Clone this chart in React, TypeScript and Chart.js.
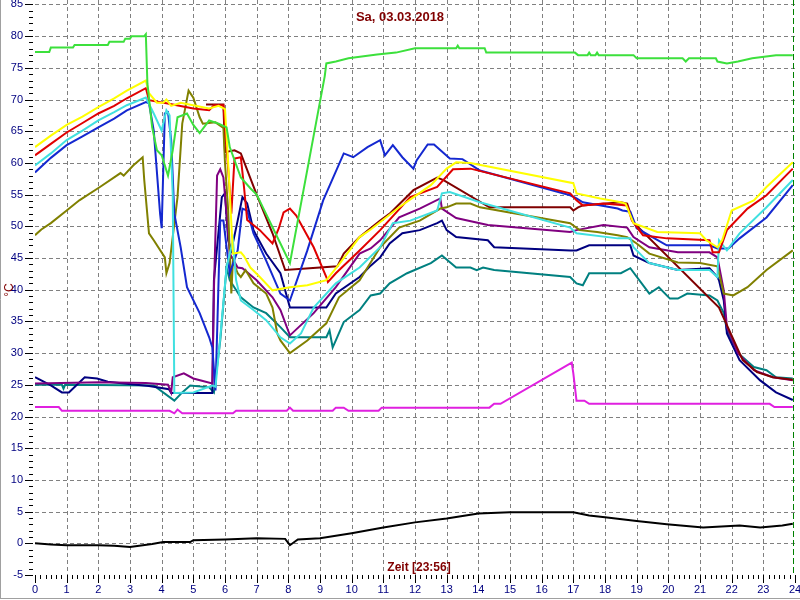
import React, { useEffect, useRef } from "react";
import { Chart, registerables } from "chart.js";

Chart.register(...registerables);

const titleText = "Sa, 03.03.2018";
const xTitleText = "Zeit [23:56]";
const yTitleText = "°C";
const nowHour = 23.933;

const xTickLabels = Array.from({ length: 25 }, (_, i) => String(i));
const yTickLabels = ["-5", "0", "5", "10", "15", "20", "25", "30", "35", "40", "45", "50", "55", "60", "65", "70", "75", "80", "85"];

type P = [number, number];

const green: P[] = [[0,77.5],[0.45,77.5],[0.5,78.2],[1.2,78.2],[1.25,78.6],[2.3,78.6],[2.35,79.1],[2.8,79.1],[2.85,79.6],[3.0,79.6],[3.05,80.0],[3.45,80.0],[3.5,80.3],[3.55,72.5],[3.7,65.6],[3.85,62],[4.0,61.2],[4.2,58],[4.35,62],[4.5,67.2],[4.8,67.8],[5.0,66],[5.2,64.7],[5.5,66.7],[5.8,66.2],[6.05,65.6],[6.15,62.5],[6.5,57.7],[6.8,56],[7.0,55],[7.75,47.3],[8.05,44.2],[9.15,73.7],[9.2,75.7],[9.5,76],[9.9,76.5],[10.8,77.1],[11.4,77.4],[12.0,78.1],[13.3,78.1],[13.35,78.5],[13.4,78.1],[14.2,78.1],[14.25,77.4],[17.05,77.4],[17.15,77],[17.45,77],[17.5,77.4],[17.55,77],[17.7,77],[17.75,77.4],[17.8,77],[18.9,77],[19.0,76.5],[20.45,76.5],[20.55,76],[20.65,76.5],[21.5,76.5],[21.55,76],[21.85,75.7],[22.2,76],[22.65,76.5],[23.4,77],[23.93,77]];

const yellow: P[] = [[0,62.5],[0.5,64.3],[1,66],[1.5,67.3],[2,68.8],[2.5,70.2],[2.9,71.4],[3.5,73],[3.6,71],[3.85,69.5],[4.05,69.5],[4.15,70],[4.3,69],[4.6,69.5],[5.5,68.6],[5.8,69],[6.0,68.5],[6.1,60],[6.25,45.7],[6.5,45.9],[6.6,45.3],[6.8,43.5],[7.1,42],[7.5,39.9],[8.05,40.4],[8.6,40.7],[9.2,41.5],[9.6,44],[10.25,48.3],[10.6,49.5],[11.5,53],[12.5,56.5],[13,59.1],[13.3,60.1],[13.75,60],[17.0,56.8],[17.1,55.2],[17.85,54.4],[18.5,53.8],[18.65,53.6],[18.9,50.5],[19.65,49.1],[21.0,48.9],[21.2,47.8],[21.55,46.7],[21.7,47.8],[22.0,52.5],[22.7,54.1],[23.1,56.2],[23.93,60.1]];

const red: P[] = [[0,61.2],[0.5,63],[1,64.8],[1.5,66.3],[2,67.8],[2.5,69],[2.9,70.2],[3.5,71.8],[3.6,69.9],[4.15,69.4],[5,68.6],[5.5,68.3],[5.65,69.1],[5.95,69.1],[6.05,62.5],[6.2,52],[6.3,60.7],[6.5,60.9],[6.6,56.2],[6.7,51],[7.1,49.4],[7.5,47.3],[7.7,49.7],[7.85,52.2],[8.05,52.8],[8.25,51.7],[8.8,46.7],[9.2,42],[9.25,41.2],[9.5,42.6],[10.25,46.2],[10.9,49.4],[11.85,54.6],[12.7,56.2],[13.2,59],[13.75,59.1],[16.9,55.2],[17.1,54.1],[17.3,53.3],[17.95,53.6],[18.7,53.3],[18.85,50.9],[19.2,48.6],[19.95,48.1],[21.3,47.8],[21.4,45.9],[21.6,45.9],[21.85,49.4],[22.5,52.8],[23.1,54.9],[23.93,59.1]];

const cyan: P[] = [[0,59.6],[0.5,61.5],[1,63.6],[1.5,65.1],[2,66.7],[2.5,68],[2.9,69.1],[3.5,70.3],[3.75,67.8],[4.0,65.1],[4.15,68.3],[4.25,67.5],[4.35,55],[4.4,23.7],[5.0,23.8],[5.6,24.9],[5.7,24.7],[5.85,32.5],[6.05,43.5],[6.25,47.8],[6.35,41.5],[6.5,38.3],[6.9,36.8],[7.3,35.2],[7.75,32.5],[8.05,31.5],[8.4,33.1],[8.8,37.2],[9.5,41],[10.25,43.5],[10.9,46.7],[11.3,50.5],[11.85,50.9],[12.7,52.5],[12.85,55.2],[13.1,55.4],[14.05,53.8],[16.9,49.8],[17.1,48.9],[18.4,48.1],[18.8,48.1],[18.9,46.7],[19.4,44.2],[20.3,43.1],[21.3,43.1],[21.55,42],[21.6,47.8],[21.85,46.2],[22.25,48.9],[23.1,53],[23.93,57.3]];

const blue: P[] = [[0,58.5],[0.5,60.8],[1,62.8],[1.5,64.2],[2,65.6],[2.5,67],[2.9,68.3],[3.5,69.6],[3.6,69.4],[3.75,65.1],[3.95,52],[4.0,49.7],[4.1,67.8],[4.2,68],[4.3,63.6],[4.4,52],[4.6,46.7],[4.8,40.4],[5.2,36.3],[5.5,32.5],[5.6,30.9],[5.7,24.1],[5.85,50.9],[5.95,50.9],[6.05,46.7],[6.15,42.6],[6.4,46.2],[6.55,52.8],[6.7,52.5],[6.9,48.9],[7.3,44.6],[7.75,39.4],[8.05,38.3],[8.6,46.2],[9.1,54.1],[9.75,61.5],[10.05,60.9],[10.5,62.5],[10.9,63.6],[11.05,61.2],[11.3,62.8],[11.6,60.9],[11.95,59.1],[12.05,60.4],[12.4,62.9],[12.6,62.9],[13.1,60.7],[13.5,60.6],[14.05,58.8],[16.9,54.9],[17.1,54.4],[17.3,53.8],[18.4,52.8],[18.55,52.5],[18.8,52.3],[19.0,49.7],[19.95,47],[21.3,47],[21.55,46.5],[21.9,46.5],[22.25,48.1],[23.1,51.4],[23.93,56.5]];

const olive: P[] = [[0,48.6],[0.2,49.5],[0.5,50.5],[1,52.5],[1.4,54.1],[2.05,56.2],[2.7,58.4],[2.8,58],[3.1,59.6],[3.4,60.9],[3.45,57.3],[3.6,48.9],[3.75,47.8],[4.1,45.1],[4.15,42.6],[4.25,44.2],[4.5,54.6],[4.65,66.2],[4.85,71.4],[5.0,70.3],[5.2,67.2],[5.3,66.2],[5.7,66.4],[5.95,65.5],[6.0,60],[6.1,52.5],[6.2,39.4],[6.25,44.6],[6.4,42.6],[6.5,42],[6.65,43.1],[6.9,41],[7.3,39.4],[7.5,37.2],[7.65,33.1],[7.75,32],[8.05,30],[8.6,32],[9.2,34.7],[9.6,38.8],[10.25,41.5],[10.6,44.3],[10.9,46.7],[11.5,49.8],[12.15,50.9],[12.8,52.8],[13.0,53],[13.3,53.6],[13.75,53.6],[14.05,53],[16.9,50.5],[17.2,49.4],[17.75,49.1],[18.4,48.6],[18.7,48.3],[19.0,47.3],[19.4,45.7],[20.3,44.3],[21.0,44.2],[21.55,43.7],[21.75,39.4],[22.05,39.1],[22.5,40.4],[23.1,43.1],[23.93,46.2]];

const maroon: P[] = [[5.4,69.2],[5.95,69.2],[6.0,61.7],[6.3,62],[6.5,61.5],[7.0,55],[7.5,48.9],[7.9,43.1],[9.55,43.7],[9.75,45.7],[10.25,48.3],[10.9,50.9],[11.2,52],[11.95,55.7],[12.7,57.7],[12.9,57.3],[14.35,53],[16.9,53],[17.0,52.5],[17.15,53],[17.3,53.3],[18.5,53.8],[18.7,53.6],[18.9,50.6],[21.6,37.2],[22.35,28.9],[22.8,27],[23.3,26.2],[23.93,25.8]];

const purple: P[] = [[0,25.2],[2.05,25.4],[3.5,25.3],[4.2,25],[4.3,23.8],[4.35,26.2],[4.7,26.8],[5.0,26],[5.6,25.2],[5.65,40],[5.75,58],[5.85,59],[5.95,57.7],[6.05,52],[6.15,45.7],[6.4,43.5],[6.55,43.4],[7.0,41.5],[7.5,38.8],[7.75,36.8],[8.05,32.8],[8.8,36.3],[9.5,40.4],[10.25,45.7],[10.6,46.5],[10.9,47.8],[11.5,51.4],[12.15,52.8],[12.8,54.4],[12.85,52.8],[13.3,51.3],[14.3,50.2],[16.9,49.1],[17.1,49.4],[17.95,50.2],[18.7,49.8],[18.9,48.3],[19.4,46.7],[20.3,45.9],[21.3,45.9],[21.55,45.1],[21.75,39.9],[21.85,34.1],[22.2,30],[22.7,27.3],[23.3,26.2],[23.93,25.7]];

const navy: P[] = [[0,26.2],[0.5,24.9],[0.85,23.8],[1.07,23.8],[1.57,26.2],[1.96,26],[2.3,25.5],[2.8,25.2],[3.6,24.8],[4.23,24.3],[4.3,23.7],[5.6,23.7],[5.65,41.5],[5.9,54.6],[6.0,55.2],[6.1,47.8],[6.2,46.2],[6.4,50.9],[6.55,54.6],[6.7,53.6],[6.9,49.4],[7.3,45.7],[7.75,42.6],[8.05,37.2],[9.2,37.2],[9.5,39.4],[10.25,42],[10.6,43.8],[10.9,45.1],[11.2,47.3],[11.6,48.9],[12.15,49.4],[12.7,50.5],[12.85,50.9],[13.0,49.4],[13.3,48.3],[14.3,47.8],[14.5,46.7],[16.9,46.2],[17.1,46.2],[17.5,47],[18.8,47],[18.9,45.4],[19.4,44.2],[20.3,43.1],[21.3,43.4],[21.55,42],[21.6,41.5],[21.75,38.3],[21.85,33.1],[22.25,28.9],[22.9,25.7],[23.4,23.8],[23.93,22.6]];

const teal: P[] = [[0,25],[0.85,25],[0.9,24.4],[0.95,25],[3.75,24.9],[4.4,22.5],[4.65,23.8],[4.9,24.9],[5.5,24.6],[5.65,23.8],[5.85,32],[6.05,43.5],[6.15,41.5],[6.5,38.8],[6.9,37.2],[7.3,36.3],[7.75,34.1],[8.05,32.5],[9.2,32.5],[9.3,33.6],[9.4,30.9],[9.5,32],[9.75,34.9],[10.25,36.8],[10.6,39.1],[10.9,39.4],[11.2,41],[11.75,42.6],[12.5,44.2],[12.85,45.4],[13.3,43.5],[13.75,43.5],[13.95,43.1],[14.15,43.5],[14.5,43.1],[16.9,42],[17.1,41],[17.3,40.7],[17.5,42.6],[18.5,42.6],[18.8,43.4],[19.4,39.4],[19.7,40.4],[20.05,38.6],[20.3,38.6],[20.6,39.4],[21.3,39.1],[21.55,38.3],[21.75,36.3],[21.85,33.6],[22.2,30],[22.7,27.8],[23.1,27.3],[23.4,26.2],[23.93,26]];

const magenta: P[] = [[0,21.5],[0.75,21.5],[0.85,20.9],[4.25,20.9],[4.4,20.5],[4.5,21.1],[4.65,20.5],[6.25,20.5],[6.35,20.9],[7.95,20.9],[8.05,21.4],[8.15,20.9],[9.4,20.9],[9.5,21.4],[9.75,21.4],[9.9,20.9],[10.85,20.9],[10.95,21.4],[14.35,21.4],[14.5,22],[14.7,22],[16.95,28.5],[17.0,26.8],[17.1,22.5],[17.35,22.5],[17.5,22],[23.2,22],[23.35,21.5],[23.93,21.5]];

const black: P[] = [[0,0],[0.5,-0.2],[1,-0.3],[2,-0.3],[2.5,-0.4],[3,-0.6],[3.7,-0.1],[4.05,0.2],[4.9,0.2],[5,0.5],[6,0.6],[7,0.8],[7.9,0.7],[8.05,-0.3],[8.3,0.6],[9,0.8],[10,1.6],[11,2.5],[12,3.3],[13,3.9],[14,4.7],[15,4.9],[16,4.9],[17,4.9],[17.5,4.4],[18,4.1],[19,3.5],[19.95,3.0],[21.1,2.5],[22.25,2.8],[22.9,2.5],[23.6,2.8],[23.93,3.1]];

const seriesList: { name: string; data: P[]; color: string }[] = [
  { name: "magenta", data: magenta, color: "#e020e0" },
  { name: "black", data: black, color: "#000000" },
  { name: "green", data: green, color: "#3ce03c" },
  { name: "yellow", data: yellow, color: "#ffff00" },
  { name: "red", data: red, color: "#e00000" },
  { name: "cyan", data: cyan, color: "#40e0e0" },
  { name: "blue", data: blue, color: "#1428d0" },
  { name: "olive", data: olive, color: "#808000" },
  { name: "maroon", data: maroon, color: "#800000" },
  { name: "purple", data: purple, color: "#800080" },
  { name: "navy", data: navy, color: "#000080" },
  { name: "teal", data: teal, color: "#008080" },
];

const FONT = "Arial, 'Liberation Sans', sans-serif";

const decorPlugin = {
  id: "decor",
  beforeDatasetsDraw(chart: any) {
    const ctx = chart.ctx;
    const xs = chart.scales.x;
    const ys = chart.scales.y;
    const { left, right, top, bottom } = chart.chartArea;
    ctx.save();
    ctx.strokeStyle = "#808080";
    ctx.lineWidth = 1;
    ctx.setLineDash([4, 3]);
    for (let h = 1; h <= 23; h++) {
      const px = Math.round(xs.getPixelForValue(h)) + 0.5;
      ctx.beginPath();
      ctx.moveTo(px, top);
      ctx.lineTo(px, bottom);
      ctx.stroke();
    }
    for (let v = 0; v <= 85; v += 5) {
      const py = Math.round(ys.getPixelForValue(v)) + 0.5;
      ctx.beginPath();
      ctx.moveTo(left, py);
      ctx.lineTo(right, py);
      ctx.stroke();
    }
    ctx.restore();
  },
  afterDatasetsDraw(chart: any) {
    const ctx = chart.ctx;
    const xs = chart.scales.x;
    const ys = chart.scales.y;
    const { left, top, bottom } = chart.chartArea;
    ctx.save();
    ctx.strokeStyle = "#008000";
    ctx.lineWidth = 1;
    ctx.setLineDash([6, 3]);
    const nx = Math.round(xs.getPixelForValue(nowHour)) + 0.5;
    ctx.beginPath();
    ctx.moveTo(nx, top);
    ctx.lineTo(nx, bottom);
    ctx.stroke();
    ctx.setLineDash([]);

    ctx.strokeStyle = "#000000";
    for (let v = -5; v <= 85; v++) {
      const py = Math.round(ys.getPixelForValue(v)) + 0.5;
      const major = v % 5 === 0;
      ctx.beginPath();
      ctx.moveTo(major ? left - 10 : left - 6, py);
      ctx.lineTo(left - 2, py);
      ctx.stroke();
    }
    ctx.fillStyle = "#000080";
    ctx.font = "11px " + FONT;
    ctx.textAlign = "right";
    ctx.textBaseline = "middle";
    yTickLabels.forEach((lab) => {
      const py = ys.getPixelForValue(Number(lab));
      ctx.fillText(lab, left - 12, py);
    });

    for (let k = 0; k <= 24 * 6; k++) {
      const h = k / 6;
      const px = Math.round(xs.getPixelForValue(h)) + 0.5;
      const major = k % 6 === 0;
      ctx.beginPath();
      ctx.moveTo(px, bottom);
      ctx.lineTo(px, bottom + (major ? 8 : 4));
      ctx.stroke();
    }
    ctx.textAlign = "center";
    ctx.textBaseline = "middle";
    xTickLabels.forEach((lab) => {
      const px = xs.getPixelForValue(Number(lab));
      ctx.fillText(lab, px, bottom + 15);
    });

    ctx.fillStyle = "#800000";
    ctx.font = "bold 13px " + FONT;
    ctx.fillText(titleText, 400, 17);
    ctx.font = "bold 12px " + FONT;
    ctx.fillText(xTitleText, 419, 568);
    ctx.save();
    ctx.translate(10, 290);
    ctx.rotate(-Math.PI / 2);
    ctx.font = "12px " + FONT;
    ctx.fillText(yTitleText, 0, 0);
    ctx.restore();

    ctx.strokeStyle = "#a0a0a0";
    ctx.beginPath();
    ctx.moveTo(0.5, 0);
    ctx.lineTo(0.5, 599);
    ctx.moveTo(0, 598.5);
    ctx.lineTo(800, 598.5);
    ctx.stroke();
    ctx.restore();
  },
};

export default function App() {
  const ref = useRef<HTMLCanvasElement | null>(null);
  useEffect(() => {
    if (!ref.current) return;
    const chart = new Chart(ref.current, {
      type: "line",
      data: {
        datasets: seriesList.map((s) => ({
          label: s.name,
          data: s.data.map(([x, y]) => ({ x, y })),
          borderColor: s.color,
          backgroundColor: s.color,
          borderWidth: 2,
          pointRadius: 0,
          tension: 0,
          fill: false,
        })),
      },
      options: {
        animation: false,
        responsive: false,
        devicePixelRatio: 1,
        layout: { padding: { left: 35, right: 5, top: 0, bottom: 25 } },
        scales: {
          x: { type: "linear", min: 0, max: 24, display: false },
          y: { type: "linear", min: -5, max: 85.7, display: false },
        },
        plugins: { legend: { display: false }, tooltip: { enabled: false }, title: { display: false } },
      },
      plugins: [decorPlugin],
    });
    return () => chart.destroy();
  }, []);
  return (
    <div style={{ position: "fixed", left: 0, top: 0, width: 800, height: 600, background: "#ffffff" }}>
      <canvas ref={ref} width={800} height={600} style={{ display: "block", width: 800, height: 600 }} />
    </div>
  );
}
